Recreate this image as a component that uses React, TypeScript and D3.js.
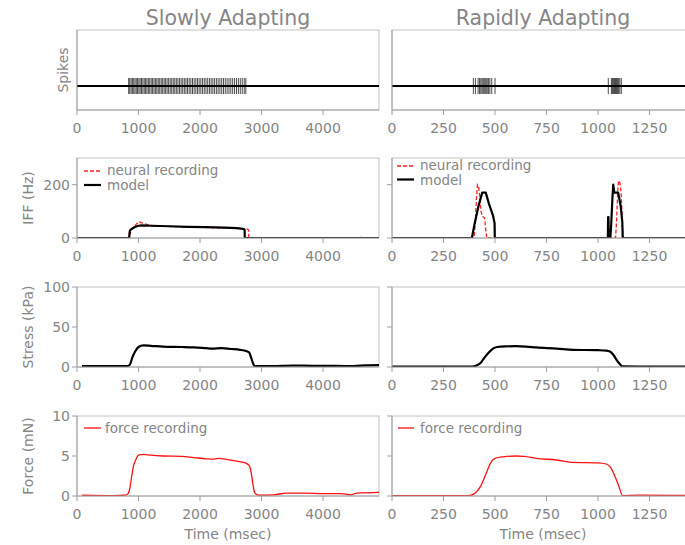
import React from "react";
import * as d3 from "d3";

type Pt = [number, number];

const columnTitles = ["Slowly Adapting", "Rapidly Adapting"];
const rowLabels = ["Spikes", "IFF (Hz)", "Stress (kPa)", "Force (mN)"];
const saXTicks = [0, 1000, 2000, 3000, 4000];
const raXTicks = [0, 250, 500, 750, 1000, 1250];
const iffTicks = [0, 200];
const stressTicks = [0, 50, 100];
const forceTicks = [0, 5, 10];

const saSpikes = [
  840, 858, 880, 901, 922, 943, 964, 985, 1006, 1027, 1049, 1071, 1093, 1115, 1137, 1160,
  1183, 1206, 1229, 1252, 1275, 1298, 1321, 1345, 1369, 1393, 1417, 1441, 1465, 1490, 1515,
  1540, 1565, 1590, 1615, 1641, 1667, 1693, 1719, 1745, 1771, 1797, 1824, 1851, 1878, 1905,
  1932, 1959, 1986, 2013, 2041, 2069, 2097, 2125, 2153, 2181, 2209, 2237, 2266, 2295, 2324,
  2353, 2382, 2411, 2441, 2471, 2501, 2531, 2562, 2593, 2624, 2655, 2687, 2719, 2745,
];
const raSpikes = [
  395, 405, 418, 425, 431, 437, 442, 447, 452, 457, 462, 468, 475, 484, 500,
  1050, 1065, 1070, 1075, 1080, 1085, 1090, 1095, 1100, 1106, 1113,
];

const saIffRecording: Pt[] = [
  [0, 0], [800, 0], [850, 2], [880, 30], [930, 45], [980, 55], [1010, 62], [1040, 58],
  [1080, 55], [1120, 52], [1180, 48], [1250, 46], [1400, 44], [1700, 42], [2000, 40],
  [2300, 38], [2500, 37], [2700, 34], [2760, 34], [2790, 30], [2795, 0], [4580, 0],
  [4620, 2], [4660, 0], [4910, 0],
];
const saIffModel: Pt[] = [
  [0, 0], [848, 0], [852, 15], [860, 28], [900, 36], [950, 42], [1000, 46], [1050, 47],
  [1200, 46], [1500, 44], [1800, 42], [2100, 41], [2400, 39], [2600, 37], [2700, 34],
  [2725, 32], [2728, 0], [4910, 0],
];
const raIffRecording: Pt[] = [
  [0, 0], [398, 0], [405, 60], [410, 150], [415, 200], [420, 195], [425, 160], [432, 100],
  [440, 80], [450, 75], [455, 30], [460, 0], [1085, 0], [1090, 60], [1096, 180], [1100, 215],
  [1105, 210], [1110, 190], [1114, 140], [1118, 50], [1122, 5], [1130, 0], [1466, 0],
];
const raIffModel: Pt[] = [
  [0, 0], [388, 0], [400, 50], [420, 120], [438, 170], [455, 170], [470, 130], [490, 85],
  [498, 55], [499, 0], [1048, 0], [1049, 78], [1051, 78], [1052, 0], [1060, 0], [1064, 50],
  [1070, 150], [1074, 200], [1079, 170], [1098, 170], [1110, 120], [1118, 60], [1120, 0],
  [1466, 0],
];
const saStress: Pt[] = [
  [80, 1], [500, 1], [820, 1.2], [860, 3], [900, 12], [950, 20], [1000, 25], [1080, 27],
  [1200, 26.5], [1400, 25.5], [1700, 25], [1900, 24.5], [2100, 23.5], [2200, 23],
  [2350, 23.5], [2500, 22.5], [2650, 21.5], [2750, 20], [2800, 18], [2830, 12], [2860, 5],
  [2890, 1], [3000, 1], [3200, 1.2], [3500, 1.8], [3800, 1.5], [4200, 1.3], [4500, 1.2],
  [4700, 2], [4910, 2.3],
];
const raStress: Pt[] = [
  [0, 0.5], [390, 0.5], [410, 2], [430, 5], [450, 12], [470, 18], [490, 23], [510, 25],
  [550, 25.8], [600, 26], [650, 25.5], [700, 24.5], [800, 23], [880, 21.5], [1000, 21],
  [1040, 20.5], [1060, 19], [1075, 15], [1090, 9], [1105, 4], [1118, 0.8], [1200, 0.6],
  [1466, 0.6],
];
const saForce: Pt[] = [
  [80, 0.1], [600, 0.05], [780, 0.1], [830, 0.3], [860, 1], [890, 2.5], [920, 3.8],
  [960, 4.6], [1000, 5.1], [1080, 5.2], [1200, 5.1], [1400, 5.0], [1700, 4.95], [1900, 4.8],
  [2100, 4.65], [2200, 4.6], [2300, 4.7], [2450, 4.55], [2600, 4.35], [2750, 4.1],
  [2800, 3.8], [2830, 3], [2860, 1.5], [2890, 0.4], [2950, 0.1], [3200, 0.15], [3400, 0.35],
  [3700, 0.35], [4000, 0.3], [4300, 0.3], [4450, 0.15], [4550, 0.35], [4910, 0.45],
];
const raForce: Pt[] = [
  [0, 0.05], [370, 0.05], [400, 0.3], [430, 1.2], [460, 3], [480, 4.2], [500, 4.7],
  [540, 4.9], [600, 5.0], [640, 4.95], [700, 4.7], [800, 4.5], [880, 4.2], [1000, 4.15],
  [1040, 4.0], [1060, 3.6], [1080, 2.6], [1100, 1.3], [1120, 0.05], [1200, 0.12], [1466, 0.05],
];

const FONT = "DejaVu Sans, Verdana, sans-serif";
const TXT = "#858585";
const AX = "#a0a0a0";
const FRAME = "#c4c4c4";

const colX = [77, 392];
const colW = 302;
const rowTop = [30, 158, 287, 416];
const rowH = 80;

const xScales = [
  d3.scaleLinear().domain([0, 4910]).range([colX[0], colX[0] + colW]),
  d3.scaleLinear().domain([0, 1466]).range([colX[1], colX[1] + colW]),
];
const xTicks = [saXTicks, raXTicks];

function yScaleFor(row: number) {
  const top = rowTop[row];
  const bottom = top + rowH;
  if (row === 0) return d3.scaleLinear().domain([-0.6, 1.4]).range([bottom, top]);
  if (row === 1) return d3.scaleLinear().domain([0, 300]).range([bottom, top]);
  if (row === 2) return d3.scaleLinear().domain([0, 100]).range([bottom, top]);
  return d3.scaleLinear().domain([0, 10]).range([bottom, top]);
}
const yTicks = [[], iffTicks, stressTicks, forceTicks];

export default function App() {
  const panels: React.ReactNode[] = [];
  for (let c = 0; c < 2; c++) {
    const x = xScales[c];
    for (let r = 0; r < 4; r++) {
      const y = yScaleFor(r);
      const top = rowTop[r];
      const bottom = top + rowH;
      const left = colX[c];
      const right = left + colW;
      const clipId = `clip-${c}-${r}`;
      const lineLin = d3.line<Pt>().x((d) => x(d[0])).y((d) => y(d[1]));
      const lineSmooth = d3
        .line<Pt>()
        .x((d) => x(d[0]))
        .y((d) => y(d[1]))
        .curve(d3.curveMonotoneX);
      const content: React.ReactNode[] = [];
      if (r === 0) {
        const spikes = c === 0 ? saSpikes : raSpikes;
        content.push(
          <line key="base" x1={left} x2={right} y1={y(0)} y2={y(0)} stroke="#000" strokeWidth={2.2} />
        );
        spikes.forEach((t, i) =>
          content.push(
            <line key={"s" + i} x1={x(t)} x2={x(t)} y1={y(0.2)} y2={y(-0.2)} stroke="#000" strokeWidth={0.7} />
          )
        );
      } else if (r === 1) {
        const rec = c === 0 ? saIffRecording : raIffRecording;
        const mod = c === 0 ? saIffModel : raIffModel;
        content.push(
          <path key="rec" d={lineLin(rec) || ""} fill="none" stroke="#ff2020" strokeWidth={1.3} strokeDasharray="4,2" />
        );
        content.push(
          <path key="mod" d={lineLin(mod) || ""} fill="none" stroke="#000" strokeWidth={2.2} strokeLinejoin="round" />
        );
      } else if (r === 2) {
        const s = c === 0 ? saStress : raStress;
        content.push(<path key="st" d={lineSmooth(s) || ""} fill="none" stroke="#000" strokeWidth={2.2} />);
      } else {
        const f = c === 0 ? saForce : raForce;
        content.push(<path key="f" d={lineSmooth(f) || ""} fill="none" stroke="#ff1010" strokeWidth={1.3} />);
      }

      panels.push(
        <g key={`p-${c}-${r}`}>
          <clipPath id={clipId}>
            <rect x={left} y={top} width={colW} height={rowH} />
          </clipPath>
          <rect x={left} y={top} width={colW} height={rowH} fill="none" stroke={FRAME} strokeWidth={1} />
          <g clipPath={`url(#${clipId})`}>{content}</g>
          <line x1={left} x2={left} y1={top} y2={bottom} stroke={AX} strokeWidth={1} />
          <line x1={left} x2={right} y1={bottom} y2={bottom} stroke={AX} strokeWidth={1} />
          {xTicks[c].map((t) => (
            <g key={"xt" + t}>
              <line x1={x(t)} x2={x(t)} y1={bottom} y2={bottom + 5} stroke={AX} />
              <text x={x(t)} y={bottom + 23} textAnchor="middle" fontSize={14} fill={TXT} fontFamily={FONT}>
                {t}
              </text>
            </g>
          ))}
          {yTicks[r].map((t) => (
            <g key={"yt" + t}>
              <line x1={left - 5} x2={left} y1={y(t)} y2={y(t)} stroke={AX} />
              {c === 0 && (
                <text x={left - 7} y={y(t) + 5} textAnchor="end" fontSize={14} fill={TXT} fontFamily={FONT}>
                  {t}
                </text>
              )}
            </g>
          ))}
        </g>
      );
    }
  }

  const legends = (
    <g fontFamily={FONT} fontSize={13.5} fill={TXT}>
      <line x1={84} x2={101} y1={171} y2={171} stroke="#ff2020" strokeWidth={1.3} strokeDasharray="4,2" />
      <text x={107} y={175}>neural recording</text>
      <line x1={84} x2={101} y1={185} y2={185} stroke="#000" strokeWidth={2.2} />
      <text x={107} y={190}>model</text>
      <line x1={397} x2={414} y1={166} y2={166} stroke="#ff2020" strokeWidth={1.3} strokeDasharray="4,2" />
      <text x={420} y={170}>neural recording</text>
      <line x1={397} x2={414} y1={179.5} y2={179.5} stroke="#000" strokeWidth={2.2} />
      <text x={420} y={185}>model</text>
      <line x1={84} x2={101} y1={428} y2={428} stroke="#ff1010" strokeWidth={1.3} />
      <text x={105} y={433}>force recording</text>
      <line x1={398} x2={414} y1={428} y2={428} stroke="#ff1010" strokeWidth={1.3} />
      <text x={420} y={433}>force recording</text>
    </g>
  );

  return (
    <svg
      width={685}
      height={545}
      style={{ position: "absolute", left: 0, top: 0, background: "#fff" }}
    >
      <rect x={0} y={0} width={685} height={545} fill="#fff" />
      {columnTitles.map((t, c) => (
        <text
          key={t}
          x={colX[c] + colW / 2}
          y={25}
          textAnchor="middle"
          fontSize={20.5}
          fill={TXT}
          fontFamily={FONT}
        >
          {t}
        </text>
      ))}
      {rowLabels.map((t, r) => {
        const cx = r === 0 ? 63 : 28;
        const cy = rowTop[r] + rowH / 2;
        return (
          <text
            key={t}
            transform={`translate(${cx},${cy}) rotate(-90)`}
            textAnchor="middle"
            dy={5}
            fontSize={14}
            fill={TXT}
            fontFamily={FONT}
          >
            {t}
          </text>
        );
      })}
      {panels}
      {legends}
      {[0, 1].map((c) => (
        <text
          key={"xl" + c}
          x={colX[c] + colW / 2}
          y={539}
          textAnchor="middle"
          fontSize={14}
          fill={TXT}
          fontFamily={FONT}
        >
          Time (msec)
        </text>
      ))}
    </svg>
  );
}
